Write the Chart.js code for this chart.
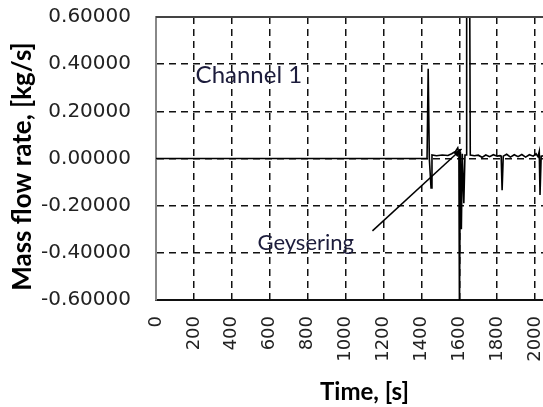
<!DOCTYPE html>
<html>
<head>
<meta charset="utf-8">
<script src="https://cdn.jsdelivr.net/npm/chart.js@4.4.1/dist/chart.umd.min.js"></script>
<style>
html,body{margin:0;padding:0;background:#fff;overflow:hidden;width:543px;height:407px;}
#wrap{width:543px;height:407px;overflow:hidden;position:relative;}
canvas{position:absolute;left:0;top:0;}
</style>
</head>
<body>
<div id="wrap"><canvas id="c" width="600" height="407"></canvas></div>
<script>
// ---- data ----
const timeS = [0,100,200,300,400,500,600,700,800,900,1000,1100,1200,1300,1400,1420,1430,
  1436,1442,1451,1456,1480,1510,1540,1560,1580,1592,1598,1601,1606,1611,1616,1624,1630,
  1637,1639,1655,1658,1680,1700,1720,1740,1760,1780,1800,1815,1821,1826,1832,1850,1870,
  1890,1910,1930,1950,1970,1990,2005,2015,2022,2026,2032,2050,2080];
const massFlow = [0,0,0,0,0,0,0,0,0,0,0,0,0,0,0,0,0,
  0.38,0.0,-0.125,0.015,0.012,0.015,0.013,0.02,0.03,0.045,0.02,-0.65,0.03,-0.3,0.02,-0.19,0.015,
  0.015,0.7,0.7,0.015,0.012,0.014,0.005,0.015,0.008,0.016,0.01,0.012,0.01,-0.135,0.01,0.018,0.006,
  0.016,0.008,0.017,0.006,0.016,0.01,0.02,0.008,0.03,-0.155,0.01,0.012,0.01];
const xTicks = [0,200,400,600,800,1000,1200,1400,1600,1800,2000];
const yTicks = [-0.6,-0.4,-0.2,0,0.2,0.4,0.6];
const xTitle = 'Time, [s]';
const yTitle = 'Mass flow rate, [kg/s]';
const channelLabel = {text:'Channel 1', x:490, y:0.354};
const geyserLabel = {text:'Geysering', x:790, y:-0.36};
const geyserArrow = {x1:1142, y1:-0.307, x2:1612, y2:0.04};

const fmtY = v => (Math.abs(v) < 1e-9 ? 0 : v).toFixed(5);

const annot = {
  id:'annot',
  afterDraw(chart){
    const {ctx, chartArea:a, scales:{x,y}} = chart;
    ctx.save();
    ctx.strokeStyle = '#444'; ctx.lineWidth = 2;
    ctx.beginPath(); ctx.moveTo(a.left, a.top); ctx.lineTo(a.right, a.top); ctx.stroke();
    ctx.fillStyle = '#1c1c3c';
    ctx.font = '24px Lato';
    ctx.textAlign = 'center'; ctx.textBaseline = 'middle';
    ctx.fillText(channelLabel.text, x.getPixelForValue(channelLabel.x), y.getPixelForValue(channelLabel.y));
    ctx.font = '22px Lato';
    ctx.fillText(geyserLabel.text, x.getPixelForValue(geyserLabel.x), y.getPixelForValue(geyserLabel.y));
    const x1 = x.getPixelForValue(geyserArrow.x1), y1 = y.getPixelForValue(geyserArrow.y1);
    const x2 = x.getPixelForValue(geyserArrow.x2), y2 = y.getPixelForValue(geyserArrow.y2);
    ctx.strokeStyle = '#000'; ctx.lineWidth = 1.5;
    ctx.beginPath(); ctx.moveTo(x1,y1); ctx.lineTo(x2,y2); ctx.stroke();
    const ang = Math.atan2(y2-y1, x2-x1);
    ctx.fillStyle = '#000';
    ctx.beginPath();
    ctx.moveTo(x2,y2);
    ctx.lineTo(x2-9*Math.cos(ang-0.35), y2-9*Math.sin(ang-0.35));
    ctx.lineTo(x2-9*Math.cos(ang+0.35), y2-9*Math.sin(ang+0.35));
    ctx.closePath(); ctx.fill();
    ctx.translate(23, (a.top + a.bottom)/2 + 8);
    ctx.rotate(-Math.PI/2);
    ctx.fillStyle = '#000';
    ctx.font = 'bold 26px Lato';
    ctx.fillText(yTitle, 0, 0);
    ctx.restore();
  }
};

new Chart(document.getElementById('c'), {
  type:'line',
  data:{
    datasets:[{
      data: timeS.map((t,i)=>({x:t, y:massFlow[i]})),
      borderColor:'#000', borderWidth:1.6, pointRadius:0, tension:0, fill:false
    }]
  },
  options:{
    responsive:false, animation:false,
    layout:{padding:{top:17,left:0,right:27,bottom:0}},
    plugins:{legend:{display:false}, tooltip:{enabled:false}},
    scales:{
      x:{
        type:'linear', min:0, max:2200,
        afterBuildTicks: s => { s.ticks = xTicks.map(v=>({value:v})); },
        afterFit: s => { s.height = 107; },
        ticks:{ maxRotation:90, minRotation:90, padding:16, color:'#222',
          font:{family:'DejaVu Sans', size:18}, callback: v => String(v) },
        grid:{ color:'#111', lineWidth:1.5, drawTicks:false },
        border:{ display:true, color:'#111', width:2, dash:[7,5] },
        title:{ display:true, text:xTitle, color:'#000', font:{family:'Lato', size:24, weight:'bold'}, padding:{top:0,bottom:0} }
      },
      y:{
        type:'linear', min:-0.6, max:0.6,
        afterBuildTicks: s => { s.ticks = yTicks.map(v=>({value:v})); },
        afterFit: s => { s.width = 156; s.paddingTop = 0; s.paddingBottom = 0; },
        ticks:{ padding:25, color:'#222', font:{family:'DejaVu Sans', size:20}, callback: v => fmtY(v) },
        grid:{ color:'#111', lineWidth:1.5, drawTicks:false },
        border:{ display:true, color:'#888', width:2, dash:[7,5] },
        title:{ display:false }
      }
    }
  },
  plugins:[annot]
});
</script>
</body>
</html>
